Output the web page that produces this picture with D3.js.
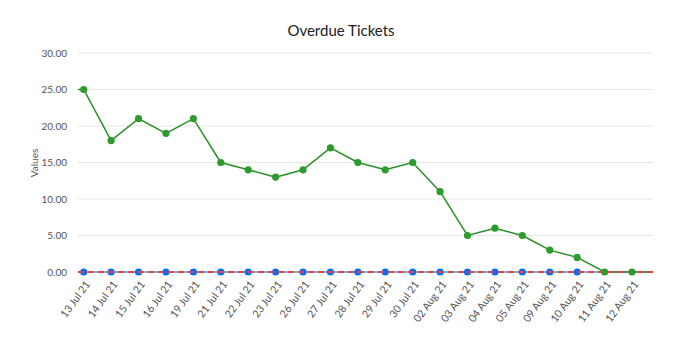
<!DOCTYPE html>
<html><head><meta charset="utf-8">
<script src="https://cdn.jsdelivr.net/npm/d3@7"></script>
<style>body{margin:0;background:#fff}svg{display:block}</style>
</head><body>
<svg id="c" width="689" height="342"></svg>
<script>
const categories = ["13 Jul 21","14 Jul 21","15 Jul 21","16 Jul 21","19 Jul 21","21 Jul 21","22 Jul 21","23 Jul 21","26 Jul 21","27 Jul 21","28 Jul 21","29 Jul 21","30 Jul 21","02 Aug 21","03 Aug 21","04 Aug 21","05 Aug 21","09 Aug 21","10 Aug 21","11 Aug 21","12 Aug 21"];
const overdue = [25,18,21,19,21,15,14,13,14,17,15,14,15,11,5,6,5,3,2,0,0];
const blueSeries = [0,0,0,0,0,0,0,0,0,0,0,0,0,0,0,0,0,0,0,null,null];
const redSeries = [0,0,0,0,0,0,0,0,0,0,0,0,0,0,0,0,0,0,0,0,0];
const yTicks = [0,5,10,15,20,25,30];

(function(){
const svg = d3.select("#c");
const font = "Lato, 'Open Sans', sans-serif";
const pL = 78, pR = 653, pT = 53, pB = 272;
const x = d3.scalePoint().domain(categories).range([83.7, 632]);
const y = d3.scaleLinear().domain([0,30]).range([pB, pT]);

svg.append("text").attr("x", 341).attr("y", 36).attr("text-anchor","middle")
  .attr("font-family", font).attr("font-size", 15).attr("fill","#222").text("Overdue Tickets");

svg.append("g").selectAll("line").data(yTicks).join("line")
  .attr("x1", pL).attr("x2", pR).attr("y1", d=>y(d)).attr("y2", d=>y(d))
  .attr("stroke","#e6e6e6").attr("stroke-width",1);

svg.append("g").selectAll("text").data(yTicks).join("text")
  .attr("x", 67).attr("y", d=>y(d)).attr("dy","0.35em").attr("text-anchor","end")
  .attr("font-family", font).attr("font-size", 10).attr("fill","#555")
  .text(d=>d3.format(".2f")(d));

svg.append("text").attr("transform","translate(38,163) rotate(-90)").attr("text-anchor","middle")
  .attr("font-family", font).attr("font-size", 10).attr("fill","#555").text("Values");

svg.append("g").selectAll("text").data(categories).join("text")
  .attr("transform", d=>`translate(${x(d)+4},${pB+10}) rotate(-54)`)
  .attr("text-anchor","end").attr("dy","0.35em")
  .attr("font-family", font).attr("font-size", 10.6).attr("fill","#555").text(d=>d);

const mk = arr => arr.map((v,i)=>({c:categories[i], v}));

svg.append("line").attr("x1", pL).attr("x2", pR).attr("y1", y(0)).attr("y2", y(0))
  .attr("stroke","#6fb2f0").attr("stroke-width",2);
svg.append("g").selectAll("circle").data(mk(blueSeries).filter(d=>d.v!=null)).join("circle")
  .attr("cx", d=>x(d.c)).attr("cy", d=>y(d.v)).attr("r",3.6).attr("fill","#0a6cf5");

const g = mk(overdue);
const pts = [{x:pL,y:y(overdue[0])}].concat(g.map(d=>({x:x(d.c),y:y(d.v)}))).concat([{x:pR,y:y(overdue[overdue.length-1])}]);
svg.append("path").datum(pts)
  .attr("d", d3.line().x(d=>d.x).y(d=>d.y)).attr("fill","none").attr("stroke","#259025").attr("stroke-width",1.5);

svg.append("path").datum([{x:pL,y:y(redSeries[0])},{x:pR,y:y(redSeries[redSeries.length-1])}])
  .attr("d", d3.line().x(d=>d.x).y(d=>d.y)).attr("fill","none").attr("stroke","#e04545")
  .attr("stroke-width",2).attr("stroke-dasharray","6,4");

svg.append("g").selectAll("circle").data(g).join("circle")
  .attr("cx", d=>x(d.c)).attr("cy", d=>y(d.v)).attr("r",3.6).attr("fill","#2c9a2c");
})();
</script>
</body></html>
